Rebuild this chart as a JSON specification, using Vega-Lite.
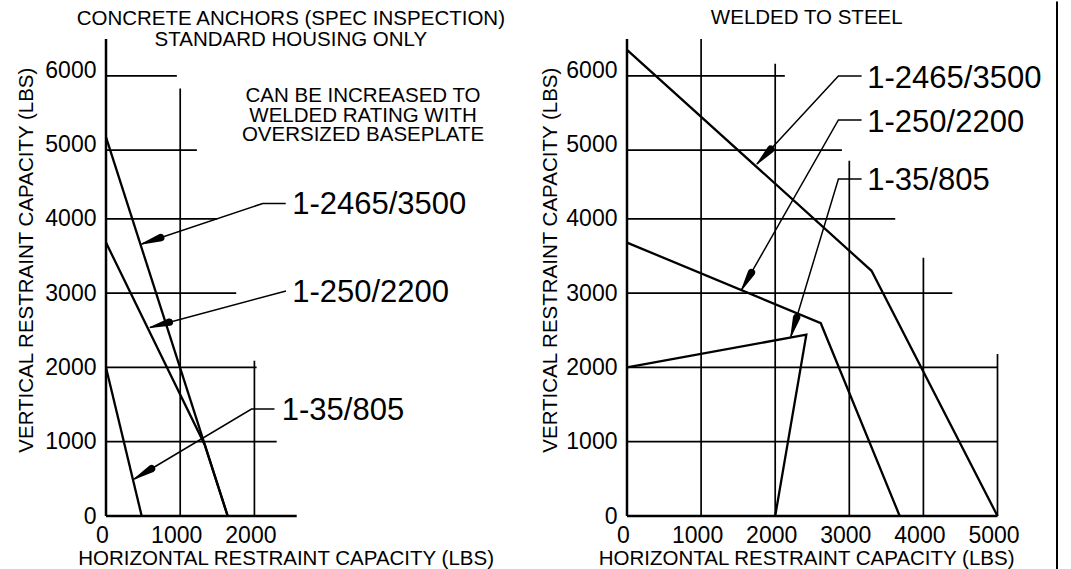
{
  "$schema": "https://vega.github.io/schema/vega-lite/v6.json",
  "background": "white",
  "padding": {"left": 16, "top": 0, "right": 0, "bottom": 0},
  "spacing": 330,
  "bounds": "flush",
  "config": {
    "font": "Liberation Sans",
    "view": {"stroke": null},
    "axis": {
      "domain": false, "ticks": false, "tickSize": 0, "grid": false, "format": "d",
      "labelFontSize": 23, "labelColor": "black", "labelFont": "Liberation Sans",
      "labelFlush": false, "labelOverlap": false,
      "titleFont": "Liberation Sans", "titleFontSize": 20.5, "titleFontWeight": "normal", "titleColor": "black"
    },
    "axisX": {"labelBaseline": "alphabetic", "labelPadding": 26.4, "labelOffset": -4, "titleBaseline": "alphabetic", "titleY": 48},
    "axisY": {"labelPadding": 10, "labelBaseline": "middle", "titleBaseline": "alphabetic", "titleAngle": 270, "titleY": 220.7}
  },
  "datasets": {
    "leftAxes": [
      {"x": 0, "y": 0, "x2": 0, "y2": 6420},
      {"x": 0, "y": 0, "x2": 2570, "y2": 0}
    ],
    "leftGrid": [
      {"x": 0, "y": 5925, "x2": 955, "y2": 5925},
      {"x": 0, "y": 4925, "x2": 1225, "y2": 4925},
      {"x": 0, "y": 4000, "x2": 1500, "y2": 4000},
      {"x": 0, "y": 3000, "x2": 1755, "y2": 3000},
      {"x": 0, "y": 2000, "x2": 2030, "y2": 2000},
      {"x": 0, "y": 1000, "x2": 2300, "y2": 1000},
      {"x": 1000, "y": 0, "x2": 1000, "y2": 5755},
      {"x": 2000, "y": 0, "x2": 2000, "y2": 2090}
    ],
    "leftSeries": [
      {"s": "1-2465/3500", "i": 0, "x": 0, "y": 5100},
      {"s": "1-2465/3500", "i": 1, "x": 1640, "y": 0},
      {"s": "1-250/2200", "i": 0, "x": 0, "y": 3680},
      {"s": "1-250/2200", "i": 1, "x": 1330, "y": 960},
      {"s": "1-250/2200", "i": 2, "x": 1640, "y": 0},
      {"s": "1-35/805", "i": 0, "x": 0, "y": 2000},
      {"s": "1-35/805", "i": 1, "x": 481, "y": 0}
    ],
    "leftLeaders": [
      {"a": "L1", "i": 0, "x": 2422, "y": 4207},
      {"a": "L1", "i": 1, "x": 2112, "y": 4207},
      {"a": "L1", "i": 2, "x": 481, "y": 3661},
      {"a": "L2", "i": 0, "x": 2426, "y": 3028},
      {"a": "L2", "i": 1, "x": 593, "y": 2538},
      {"a": "L3", "i": 0, "x": 2271, "y": 1440},
      {"a": "L3", "i": 1, "x": 1961, "y": 1440},
      {"a": "L3", "i": 2, "x": 381, "y": 498}
    ],
    "leftHeads": [
      {"a": "L1", "w": 0, "x": 481, "y": 3661},
      {"a": "L1", "w": 1, "x": 737, "y": 3747},
      {"a": "L2", "w": 0, "x": 593, "y": 2538},
      {"a": "L2", "w": 1, "x": 853, "y": 2608},
      {"a": "L3", "w": 0, "x": 381, "y": 498},
      {"a": "L3", "w": 1, "x": 613, "y": 637}
    ],
    "leftLabels": [
      {"x": 2509, "y": 4065, "t": "1-2465/3500"},
      {"x": 2509, "y": 2877, "t": "1-250/2200"},
      {"x": 2369, "y": 1292, "t": "1-35/805"}
    ],
    "leftNote": [
      {"x": 3464, "y": 5576, "t": "CAN BE INCREASED TO"},
      {"x": 3464, "y": 5307, "t": "WELDED RATING WITH"},
      {"x": 3464, "y": 5047, "t": "OVERSIZED BASEPLATE"}
    ],
    "rightAxes": [
      {"x": 0, "y": 0, "x2": 0, "y2": 6420},
      {"x": 0, "y": 0, "x2": 5000, "y2": 0}
    ],
    "rightGrid": [
      {"x": 0, "y": 5925, "x2": 2130, "y2": 5925},
      {"x": 0, "y": 4925, "x2": 2900, "y2": 4925},
      {"x": 0, "y": 4000, "x2": 3620, "y2": 4000},
      {"x": 0, "y": 3000, "x2": 4390, "y2": 3000},
      {"x": 0, "y": 2000, "x2": 5000, "y2": 2000},
      {"x": 0, "y": 1000, "x2": 5000, "y2": 1000},
      {"x": 1000, "y": 0, "x2": 1000, "y2": 6420},
      {"x": 2000, "y": 0, "x2": 2000, "y2": 6087},
      {"x": 3000, "y": 0, "x2": 3000, "y2": 4782},
      {"x": 4000, "y": 0, "x2": 4000, "y2": 3476},
      {"x": 5000, "y": 0, "x2": 5000, "y2": 2180}
    ],
    "rightFrame": [
      {"x": 5803, "y": -740, "x2": 5803, "y2": 6925}
    ],
    "rightSeries": [
      {"s": "1-2465/3500", "i": 0, "x": 0, "y": 6275},
      {"s": "1-2465/3500", "i": 1, "x": 3300, "y": 3300},
      {"s": "1-2465/3500", "i": 2, "x": 5000, "y": 0},
      {"s": "1-250/2200", "i": 0, "x": 0, "y": 3680},
      {"s": "1-250/2200", "i": 1, "x": 2615, "y": 2595},
      {"s": "1-250/2200", "i": 2, "x": 3680, "y": 0},
      {"s": "1-35/805", "i": 0, "x": 0, "y": 2000},
      {"s": "1-35/805", "i": 1, "x": 2420, "y": 2440},
      {"s": "1-35/805", "i": 2, "x": 2000, "y": 0}
    ],
    "rightLeaders": [
      {"a": "R1", "i": 0, "x": 3166, "y": 5922},
      {"a": "R1", "i": 1, "x": 2853, "y": 5922},
      {"a": "R1", "i": 2, "x": 1754, "y": 4738},
      {"a": "R2", "i": 0, "x": 3166, "y": 5330},
      {"a": "R2", "i": 1, "x": 2853, "y": 5330},
      {"a": "R2", "i": 2, "x": 1545, "y": 3042},
      {"a": "R3", "i": 0, "x": 3166, "y": 4536},
      {"a": "R3", "i": 1, "x": 2853, "y": 4536},
      {"a": "R3", "i": 2, "x": 2211, "y": 2413}
    ],
    "rightHeads": [
      {"a": "R1", "w": 0, "x": 1754, "y": 4738},
      {"a": "R1", "w": 1, "x": 1938, "y": 4935},
      {"a": "R2", "w": 0, "x": 1545, "y": 3042},
      {"a": "R2", "w": 1, "x": 1679, "y": 3276},
      {"a": "R3", "w": 0, "x": 2211, "y": 2413},
      {"a": "R3", "w": 1, "x": 2289, "y": 2672}
    ],
    "rightLabels": [
      {"x": 3243, "y": 5764, "t": "1-2465/3500"},
      {"x": 3243, "y": 5172, "t": "1-250/2200"},
      {"x": 3243, "y": 4388, "t": "1-35/805"}
    ]
  },
  "hconcat": [
    {
      "width": 190.7,
      "height": 477,
      "title": {
        "text": ["CONCRETE ANCHORS (SPEC INSPECTION)", "STANDARD HOUSING ONLY"],
        "anchor": "middle", "frame": "group", "dx": 89.5, "offset": -33,
        "fontSize": 20.5, "fontWeight": "normal", "lineHeight": 21, "color": "black",
        "font": "Liberation Sans", "baseline": "bottom"
      },
      "encoding": {
        "x": {"field": "x", "type": "quantitative",
              "scale": {"domain": [0, 2570], "nice": false, "zero": false},
              "axis": {"values": [0, 1000, 2000], "title": "HORIZONTAL RESTRAINT CAPACITY (LBS)", "titleX": 179.6}},
        "y": {"field": "y", "type": "quantitative",
              "scale": {"domain": [0, 6420], "nice": false, "zero": false},
              "axis": {"values": [0, 1000, 2000, 3000, 4000, 5000, 6000], "title": "VERTICAL RESTRAINT CAPACITY (LBS)", "titleX": -73.3}}
      },
      "layer": [
        {"data": {"name": "leftGrid"}, "mark": {"type": "rule", "color": "black", "strokeWidth": 1.7},
         "encoding": {"x2": {"field": "x2"}, "y2": {"field": "y2"}}},
        {"data": {"name": "leftAxes"}, "mark": {"type": "rule", "color": "black", "strokeWidth": 2.5},
         "encoding": {"x2": {"field": "x2"}, "y2": {"field": "y2"}}},
        {"data": {"name": "leftSeries"}, "mark": {"type": "line", "color": "black", "strokeWidth": 2.3},
         "encoding": {"detail": {"field": "s", "type": "nominal"}, "order": {"field": "i", "type": "quantitative"}}},
        {"data": {"name": "leftLeaders"}, "mark": {"type": "line", "color": "black", "strokeWidth": 1.5},
         "encoding": {"detail": {"field": "a", "type": "nominal"}, "order": {"field": "i", "type": "quantitative"}}},
        {"data": {"name": "leftHeads"}, "mark": {"type": "trail", "color": "black"},
         "encoding": {"detail": {"field": "a", "type": "nominal"}, "order": {"field": "w", "type": "quantitative"},
                      "size": {"field": "w", "type": "quantitative", "scale": {"domain": [0, 1], "range": [0, 7.5]}, "legend": null}}},
        {"data": {"name": "leftLabels"}, "mark": {"type": "text", "align": "left", "baseline": "alphabetic", "fontSize": 31, "color": "black", "font": "Liberation Sans"},
         "encoding": {"text": {"field": "t", "type": "nominal"}}},
        {"data": {"name": "leftNote"}, "mark": {"type": "text", "align": "center", "baseline": "alphabetic", "fontSize": 20.5, "color": "black", "font": "Liberation Sans"},
         "encoding": {"text": {"field": "t", "type": "nominal"}}}
      ]
    },
    {
      "width": 370.5,
      "height": 477,
      "title": {
        "text": "WELDED TO STEEL",
        "anchor": "middle", "frame": "group", "dx": -5.5, "offset": -48.3,
        "fontSize": 20.5, "fontWeight": "normal", "color": "black",
        "font": "Liberation Sans", "baseline": "bottom"
      },
      "encoding": {
        "x": {"field": "x", "type": "quantitative",
              "scale": {"domain": [0, 5000], "nice": false, "zero": false},
              "axis": {"values": [0, 1000, 2000, 3000, 4000, 5000], "title": "HORIZONTAL RESTRAINT CAPACITY (LBS)", "titleX": 179.1}},
        "y": {"field": "y", "type": "quantitative",
              "scale": {"domain": [0, 6420], "nice": false, "zero": false},
              "axis": {"values": [0, 1000, 2000, 3000, 4000, 5000, 6000], "title": "VERTICAL RESTRAINT CAPACITY (LBS)", "titleX": -70.8}}
      },
      "layer": [
        {"data": {"name": "rightGrid"}, "mark": {"type": "rule", "color": "black", "strokeWidth": 1.7},
         "encoding": {"x2": {"field": "x2"}, "y2": {"field": "y2"}}},
        {"data": {"name": "rightAxes"}, "mark": {"type": "rule", "color": "black", "strokeWidth": 2.5},
         "encoding": {"x2": {"field": "x2"}, "y2": {"field": "y2"}}},
        {"data": {"name": "rightFrame"}, "mark": {"type": "rule", "color": "black", "strokeWidth": 2},
         "encoding": {"x2": {"field": "x2"}, "y2": {"field": "y2"}}},
        {"data": {"name": "rightSeries"}, "mark": {"type": "line", "color": "black", "strokeWidth": 2.3},
         "encoding": {"detail": {"field": "s", "type": "nominal"}, "order": {"field": "i", "type": "quantitative"}}},
        {"data": {"name": "rightLeaders"}, "mark": {"type": "line", "color": "black", "strokeWidth": 1.5},
         "encoding": {"detail": {"field": "a", "type": "nominal"}, "order": {"field": "i", "type": "quantitative"}}},
        {"data": {"name": "rightHeads"}, "mark": {"type": "trail", "color": "black"},
         "encoding": {"detail": {"field": "a", "type": "nominal"}, "order": {"field": "w", "type": "quantitative"},
                      "size": {"field": "w", "type": "quantitative", "scale": {"domain": [0, 1], "range": [0, 7.5]}, "legend": null}}},
        {"data": {"name": "rightLabels"}, "mark": {"type": "text", "align": "left", "baseline": "alphabetic", "fontSize": 31, "color": "black", "font": "Liberation Sans"},
         "encoding": {"text": {"field": "t", "type": "nominal"}}}
      ]
    }
  ]
}
